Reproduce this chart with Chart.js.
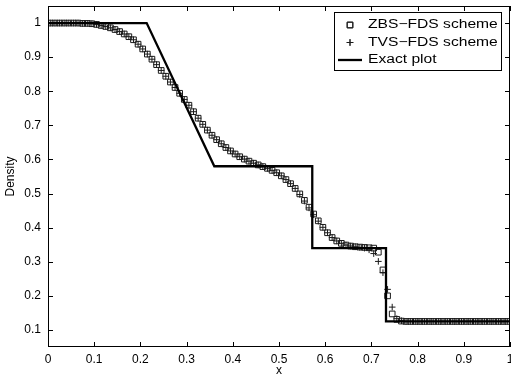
<!DOCTYPE html>
<html>
<head>
<meta charset="utf-8">
<script src="https://cdn.jsdelivr.net/npm/chart.js@4/dist/chart.umd.min.js"></script>
<style>
  html, body { margin: 0; padding: 0; background: #fff; }
  #wrap { width: 511px; height: 382px; }
</style>
</head>
<body>
<div id="wrap"><canvas id="density"></canvas></div>
<script>
// cell centres
var xs = [0.005,0.015,0.025,0.035,0.045,0.055,0.065,0.075,0.085,0.095,
          0.105,0.115,0.125,0.135,0.145,0.155,0.165,0.175,0.185,0.195,
          0.205,0.215,0.225,0.235,0.245,0.255,0.265,0.275,0.285,0.295,
          0.305,0.315,0.325,0.335,0.345,0.355,0.365,0.375,0.385,0.395,
          0.405,0.415,0.425,0.435,0.445,0.455,0.465,0.475,0.485,0.495,
          0.505,0.515,0.525,0.535,0.545,0.555,0.565,0.575,0.585,0.595,
          0.605,0.615,0.625,0.635,0.645,0.655,0.665,0.675,0.685,0.695,
          0.705,0.715,0.725,0.735,0.745,0.755,0.765,0.775,0.785,0.795,
          0.805,0.815,0.825,0.835,0.845,0.855,0.865,0.875,0.885,0.895,
          0.905,0.915,0.925,0.935,0.945,0.955,0.965,0.975,0.985,0.995];

var zbs = [1.000,1.000,1.000,1.000,1.000,1.000,1.000,0.999,0.999,0.998,
           0.996,0.993,0.990,0.986,0.981,0.975,0.968,0.960,0.951,0.938,
           0.924,0.909,0.894,0.878,0.861,0.844,0.827,0.811,0.794,0.776,
           0.759,0.740,0.721,0.703,0.686,0.671,0.658,0.646,0.635,0.625,
           0.616,0.608,0.601,0.595,0.589,0.584,0.579,0.574,0.568,0.561,
           0.552,0.541,0.529,0.515,0.499,0.480,0.460,0.440,0.420,0.401,
           0.385,0.371,0.361,0.354,0.349,0.346,0.344,0.343,0.342,0.341,
           0.340,0.328,0.276,0.200,0.147,0.131,0.126,0.125,0.125,0.125,
           0.125,0.125,0.125,0.125,0.125,0.125,0.125,0.125,0.125,0.125,
           0.125,0.125,0.125,0.125,0.125,0.125,0.125,0.125,0.125,0.125];

var tvs = [1.000,1.000,1.000,1.000,1.000,1.000,1.000,0.999,0.999,0.998,
           0.996,0.993,0.990,0.986,0.981,0.975,0.968,0.960,0.951,0.938,
           0.924,0.909,0.894,0.878,0.861,0.844,0.827,0.811,0.794,0.776,
           0.759,0.740,0.721,0.703,0.686,0.671,0.658,0.646,0.635,0.625,
           0.616,0.608,0.601,0.595,0.589,0.584,0.579,0.574,0.568,0.561,
           0.552,0.541,0.529,0.515,0.497,0.478,0.458,0.438,0.419,0.401,
           0.385,0.371,0.361,0.354,0.349,0.346,0.344,0.342,0.340,0.335,
           0.324,0.301,0.268,0.219,0.167,0.133,0.127,0.125,0.125,0.125,
           0.125,0.125,0.125,0.125,0.125,0.125,0.125,0.125,0.125,0.125,
           0.125,0.125,0.125,0.125,0.125,0.125,0.125,0.125,0.125,0.125];

var exactX = [0, 0.2136, 0.36, 0.572, 0.572, 0.7316, 0.7316, 1];
var exactY = [1, 1, 0.58, 0.58, 0.34, 0.34, 0.125, 0.125];

var xTicks = [0, 0.1, 0.2, 0.3, 0.4, 0.5, 0.6, 0.7, 0.8, 0.9, 1];
var yTicks = [0.1, 0.2, 0.3, 0.4, 0.5, 0.6, 0.7, 0.8, 0.9, 1];

var labels = ['ZBS\u2212FDS scheme', 'TVS\u2212FDS scheme', 'Exact plot'];

function pairs(a, b) {
    return a.map(function (v, i) { return {x: v, y: b[i]}; });
}

var font = 'Liberation Sans, Arial, Helvetica, sans-serif';

// box, inward ticks on all sides and legend (matlab look)
var frame = {
    id: 'frame',
    afterDraw: function (chart) {
        var ctx = chart.ctx, a = chart.chartArea;
        var sx = chart.scales.x, sy = chart.scales.y;
        ctx.save();
        ctx.strokeStyle = '#000';
        ctx.lineWidth = 1;
        ctx.beginPath();
        xTicks.forEach(function (v) {
            var p = Math.round(sx.getPixelForValue(v)) + 0.5;
            ctx.moveTo(p, a.bottom); ctx.lineTo(p, a.bottom - 5);
            ctx.moveTo(p, a.top); ctx.lineTo(p, a.top + 5);
        });
        yTicks.forEach(function (v) {
            var p = Math.round(sy.getPixelForValue(v)) + 0.5;
            ctx.moveTo(a.left, p); ctx.lineTo(a.left + 5, p);
            ctx.moveTo(a.right, p); ctx.lineTo(a.right - 5, p);
        });
        ctx.stroke();
        ctx.strokeRect(a.left + 0.5, a.top + 0.5, a.right - a.left - 1, a.bottom - a.top - 1);

        // legend
        var bx = 334.5, by = 12.5, bw = 167, bh = 58;
        ctx.fillStyle = '#fff';
        ctx.fillRect(bx, by, bw, bh);
        ctx.strokeRect(bx, by, bw, bh);
        var rows = [25, 42.5, 60];
        var ds = chart.data.datasets;
        var order = [1, 2, 0];
        ctx.textBaseline = 'middle';
        rows.forEach(function (ry, i) {
            var d = ds[order[i]];
            ctx.strokeStyle = d.borderColor;
            if (d.showLine) {
                ctx.lineWidth = d.borderWidth;
                ctx.beginPath();
                ctx.moveTo(338, ry); ctx.lineTo(362, ry);
                ctx.stroke();
            } else {
                Chart.helpers.drawPoint(ctx, {
                    pointStyle: d.pointStyle, radius: d.pointRadius,
                    borderWidth: d.borderWidth, rotation: 0
                }, 350, ry);
                ctx.stroke();
            }
            ctx.save();
            ctx.translate(368, ry);
            ctx.scale(1.25, 1);
            ctx.fillStyle = '#000';
            ctx.font = '12.5px ' + font;
            ctx.fillText(labels[i], 0, 0);
            ctx.restore();
        });
        ctx.restore();
    }
};

var densityChart = new Chart(document.getElementById('density'), {
    type: 'scatter',
    data: {
        datasets: [{
            label: labels[2],
            data: pairs(exactX, exactY),
            showLine: true,
            borderColor: '#000',
            borderWidth: 2.3,
            pointRadius: 0,
            fill: false
        }, {
            label: labels[0],
            data: pairs(xs, zbs),
            pointStyle: 'rect',
            pointRadius: 4,
            borderColor: '#1a1a1a',
            backgroundColor: 'rgba(0,0,0,0)',
            borderWidth: 1
        }, {
            label: labels[1],
            data: pairs(xs, tvs),
            pointStyle: 'cross',
            pointRadius: 3.3,
            borderColor: '#1a1a1a',
            backgroundColor: 'rgba(0,0,0,0)',
            borderWidth: 1
        }]
    },
    options: {
        responsive: true,
        maintainAspectRatio: false,
        animation: false,
        layout: { padding: { top: 6, right: 1, left: 0, bottom: 0 }, autoPadding: false },
        plugins: { legend: { display: false }, tooltip: { enabled: false } },
        scales: {
            x: {
                type: 'linear', min: 0, max: 1,
                afterBuildTicks: function (s) { s.ticks = xTicks.map(function (v) { return {value: v}; }); },
                afterFit: function (s) { s.height = 35; s.paddingLeft = 0; s.paddingRight = 0; },
                grid: { display: false, drawTicks: false },
                border: { display: false },
                ticks: {
                    padding: 5, color: '#000', maxRotation: 0, autoSkip: false,
                    font: { family: font, size: 12 },
                    callback: function (v) { return String(+v.toFixed(1)); }
                },
                title: {
                    display: true, text: 'x', color: '#000',
                    font: { family: font, size: 12 },
                    padding: { top: 4, bottom: 4 }
                }
            },
            y: {
                type: 'linear', min: 0.05, max: 1.05,
                afterBuildTicks: function (s) { s.ticks = yTicks.map(function (v) { return {value: v}; }); },
                afterFit: function (s) { s.width = 48; s.paddingTop = 0; s.paddingBottom = 0; },
                grid: { display: false, drawTicks: false },
                border: { display: false },
                ticks: {
                    padding: 7, color: '#000', autoSkip: false,
                    font: { family: font, size: 12 },
                    callback: function (v) { return String(+v.toFixed(1)); }
                },
                title: {
                    display: true, text: 'Density', color: '#000',
                    font: { family: font, size: 12 },
                    padding: { top: 3, bottom: 3 }
                }
            }
        }
    },
    plugins: [frame]
});
</script>
</body>
</html>
